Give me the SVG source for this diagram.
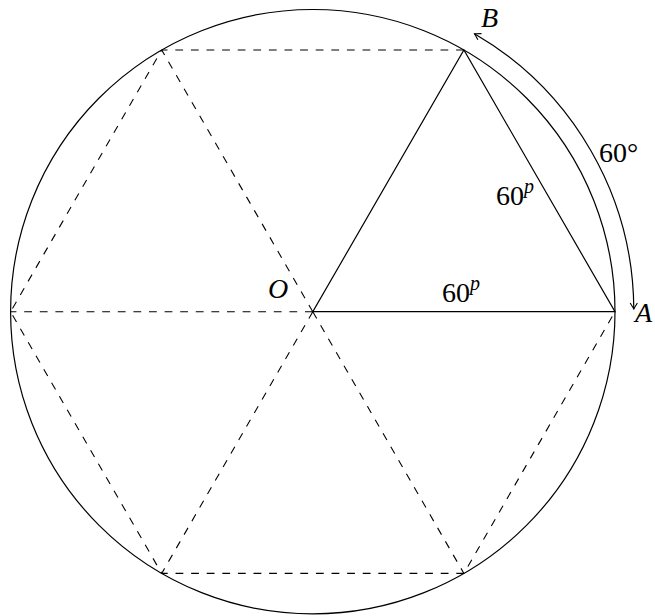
<svg xmlns="http://www.w3.org/2000/svg" width="655" height="616" viewBox="0 0 655 616">
<style>
.s{fill:none;stroke:#000;stroke-width:1.2}
.d{fill:none;stroke:#000;stroke-width:1.1;stroke-dasharray:7.8 7.8}
text{font-family:"Liberation Serif","Times New Roman",serif;font-size:28px;fill:#000}
.i{font-style:italic}
.sup{font-style:italic;font-size:20px}
</style>
<defs>
<marker id="ar" viewBox="-8 -5 10 10" markerWidth="10" markerHeight="10" markerUnits="userSpaceOnUse" refX="0" refY="0" orient="auto-start-reverse">
<path d="M-6,-3.6 Q-1.5,-0.8 0,0 Q-1.5,0.8 -6,3.6" fill="none" stroke="#000" stroke-width="1.1"/>
</marker>
</defs>
<g id="circle"><circle class="s" cx="312.8" cy="311.7" r="302.2"/></g>
<g id="connectors">
<g id="dashed">
<path class="d" d="M463.9,50 L161.7,50 L10.6,311.7 L161.7,573.4 L463.9,573.4 L615,311.7"/>
<path class="d" d="M312.8,311.7 L161.7,50 M312.8,311.7 L10.6,311.7 M312.8,311.7 L161.7,573.4 M312.8,311.7 L463.9,573.4"/>
</g>
<g id="solid">
<path class="s" d="M312.8,311.7 L615,311.7 L463.9,50 Z"/>
</g>
<g id="arc">
<path class="s" d="M474.5,33.7 A321 321 0 0 1 633.8,309" marker-start="url(#ar)" marker-end="url(#ar)"/>
</g>
</g>
<g id="labels">
<text class="i" x="481" y="26.5">B</text>
<text class="i" x="635" y="321.5">A</text>
<text class="i" x="268" y="298">O</text>
<text x="599" y="161.5">60°</text>
<text x="496" y="205">60<tspan class="sup" dy="-12">p</tspan></text>
<text x="442" y="302">60<tspan class="sup" dy="-12">p</tspan></text>
</g>
</svg>
